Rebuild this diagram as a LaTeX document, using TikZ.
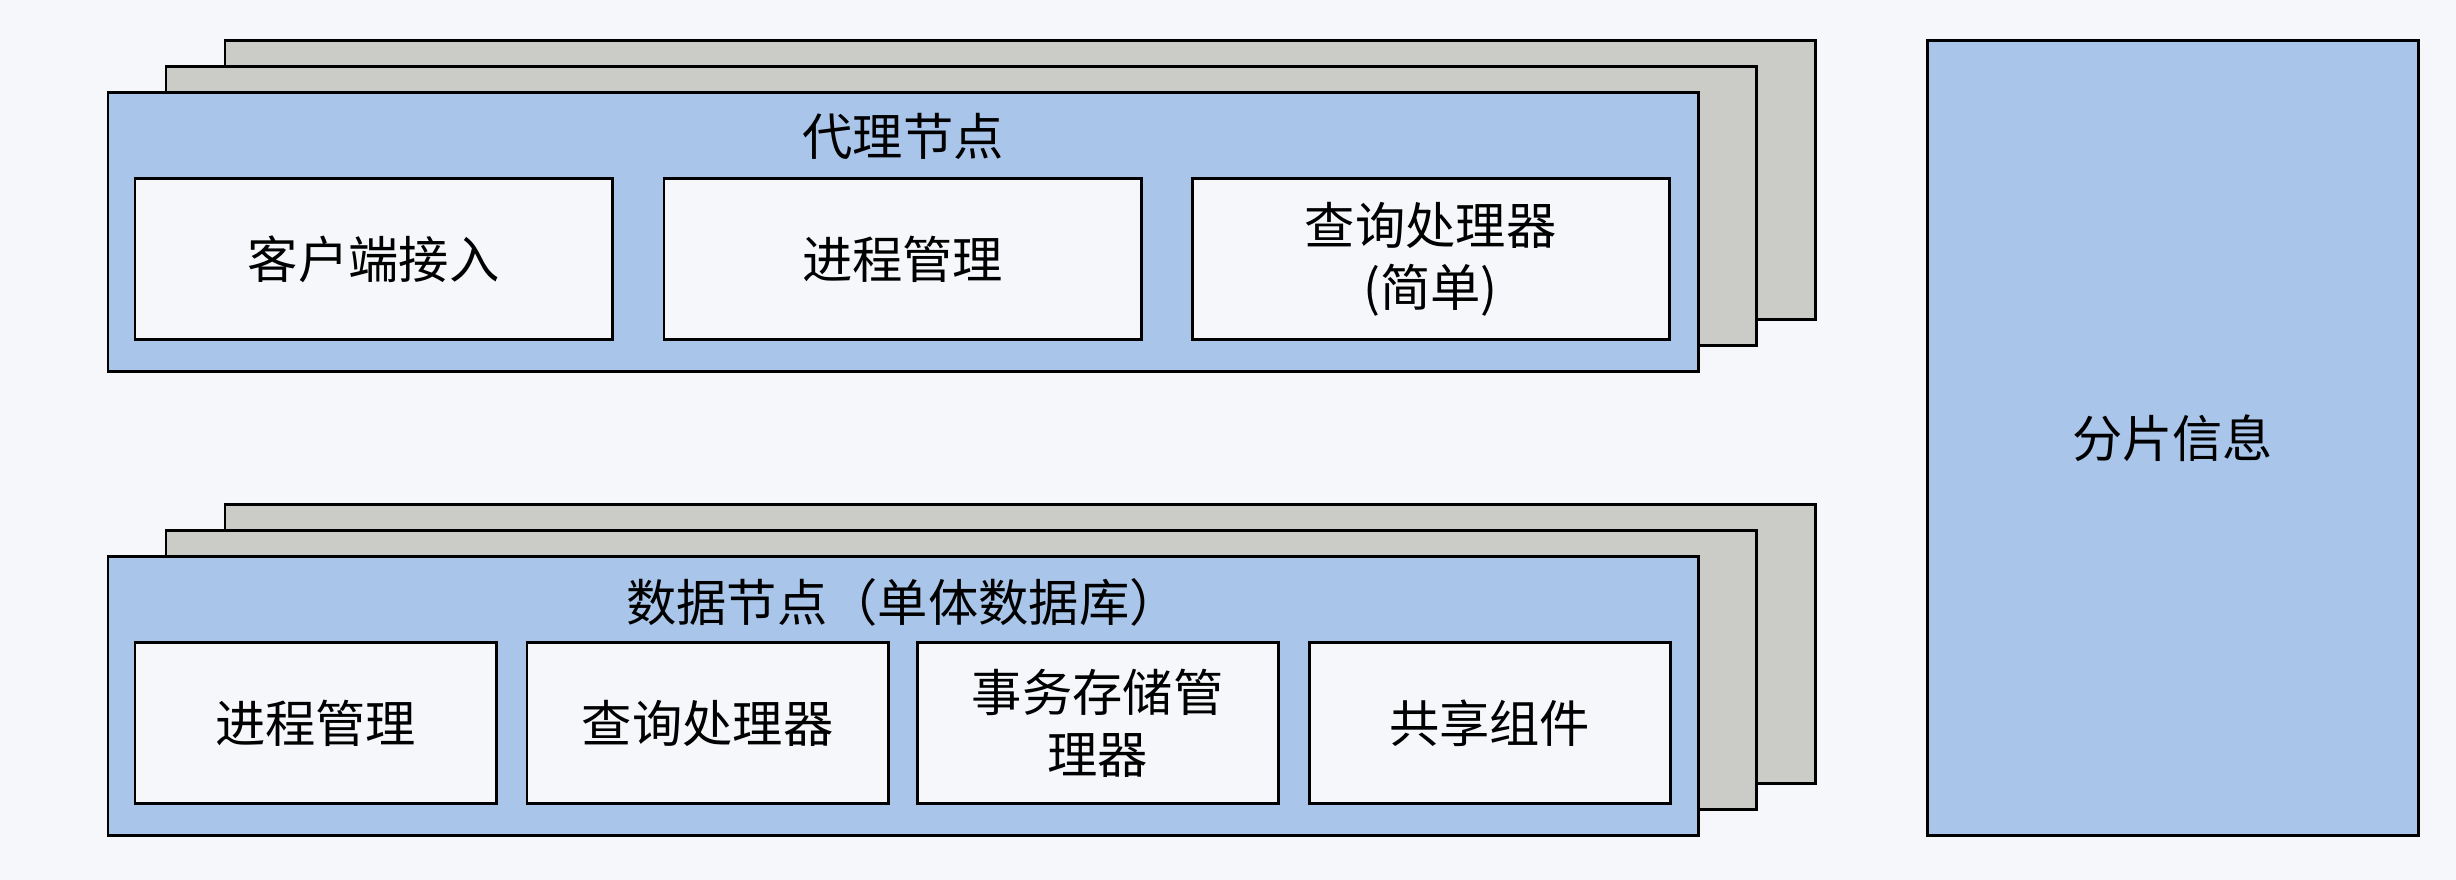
\documentclass[tikz,border=0pt]{standalone}
\usepackage{fontspec}
\setmainfont{Noto Sans CJK SC}
\definecolor{bgc}{HTML}{F5F7FB}
\definecolor{bluec}{HTML}{A9C6EA}
\definecolor{grayc}{HTML}{CBCBC8}
\begin{document}
\begin{tikzpicture}[x=0.01cm,y=-0.01cm,
  base/.style={draw=black,line width=0.85pt,inner sep=0pt,outer sep=0pt,anchor=north west,rectangle},
  layer/.style={base,fill=grayc,minimum width=15.9cm,minimum height=2.78cm},
  front/.style={base,fill=bluec,minimum width=15.9cm,minimum height=2.78cm},
  topbox/.style={base,fill=bgc,minimum width=4.77cm,minimum height=1.6cm,align=center,font=\fontsize{14.3}{17.6}\selectfont},
  botbox/.style={base,fill=bgc,minimum width=3.61cm,minimum height=1.6cm,align=center,font=\fontsize{14.3}{17.6}\selectfont},
  title/.style={inner sep=0pt,font=\fontsize{14.3}{17.6}\selectfont}]
\fill[bgc] (0,0) rectangle (2456,880);
\useasboundingbox (0,0) rectangle (2456,880);
% top group
\node[layer] (tb) at (225,41) {};
\node[layer] (tm) at (166,67) {};
\node[front] (tf) at (108,93) {};
\node[title] (tt) at (903,136) {代理节点};
\node[topbox] (t1) at (135,179) {客户端接入};
\node[topbox] (t2) at (664,179) {进程管理};
\node[topbox] (t3) at (1192,179) {查询处理器\\(简单)};
% bottom group
\node[layer] (bb) at (225,505) {};
\node[layer] (bm) at (166,531) {};
\node[front] (bf) at (108,557) {};
\node[title] (bt) at (903,602) {数据节点（单体数据库）};
\node[botbox] (b1) at (135,643) {进程管理};
\node[botbox] (b2) at (527,643) {查询处理器};
\node[botbox] (b3) at (917,643) {事务存储管\\理器};
\node[botbox] (b4) at (1309,643) {共享组件};
% right
\node[base,fill=bluec,minimum width=4.91cm,minimum height=7.94cm,font=\fontsize{14.3}{17.6}\selectfont] (rs) at (1927,41) {分片信息};
\end{tikzpicture}
\end{document}
